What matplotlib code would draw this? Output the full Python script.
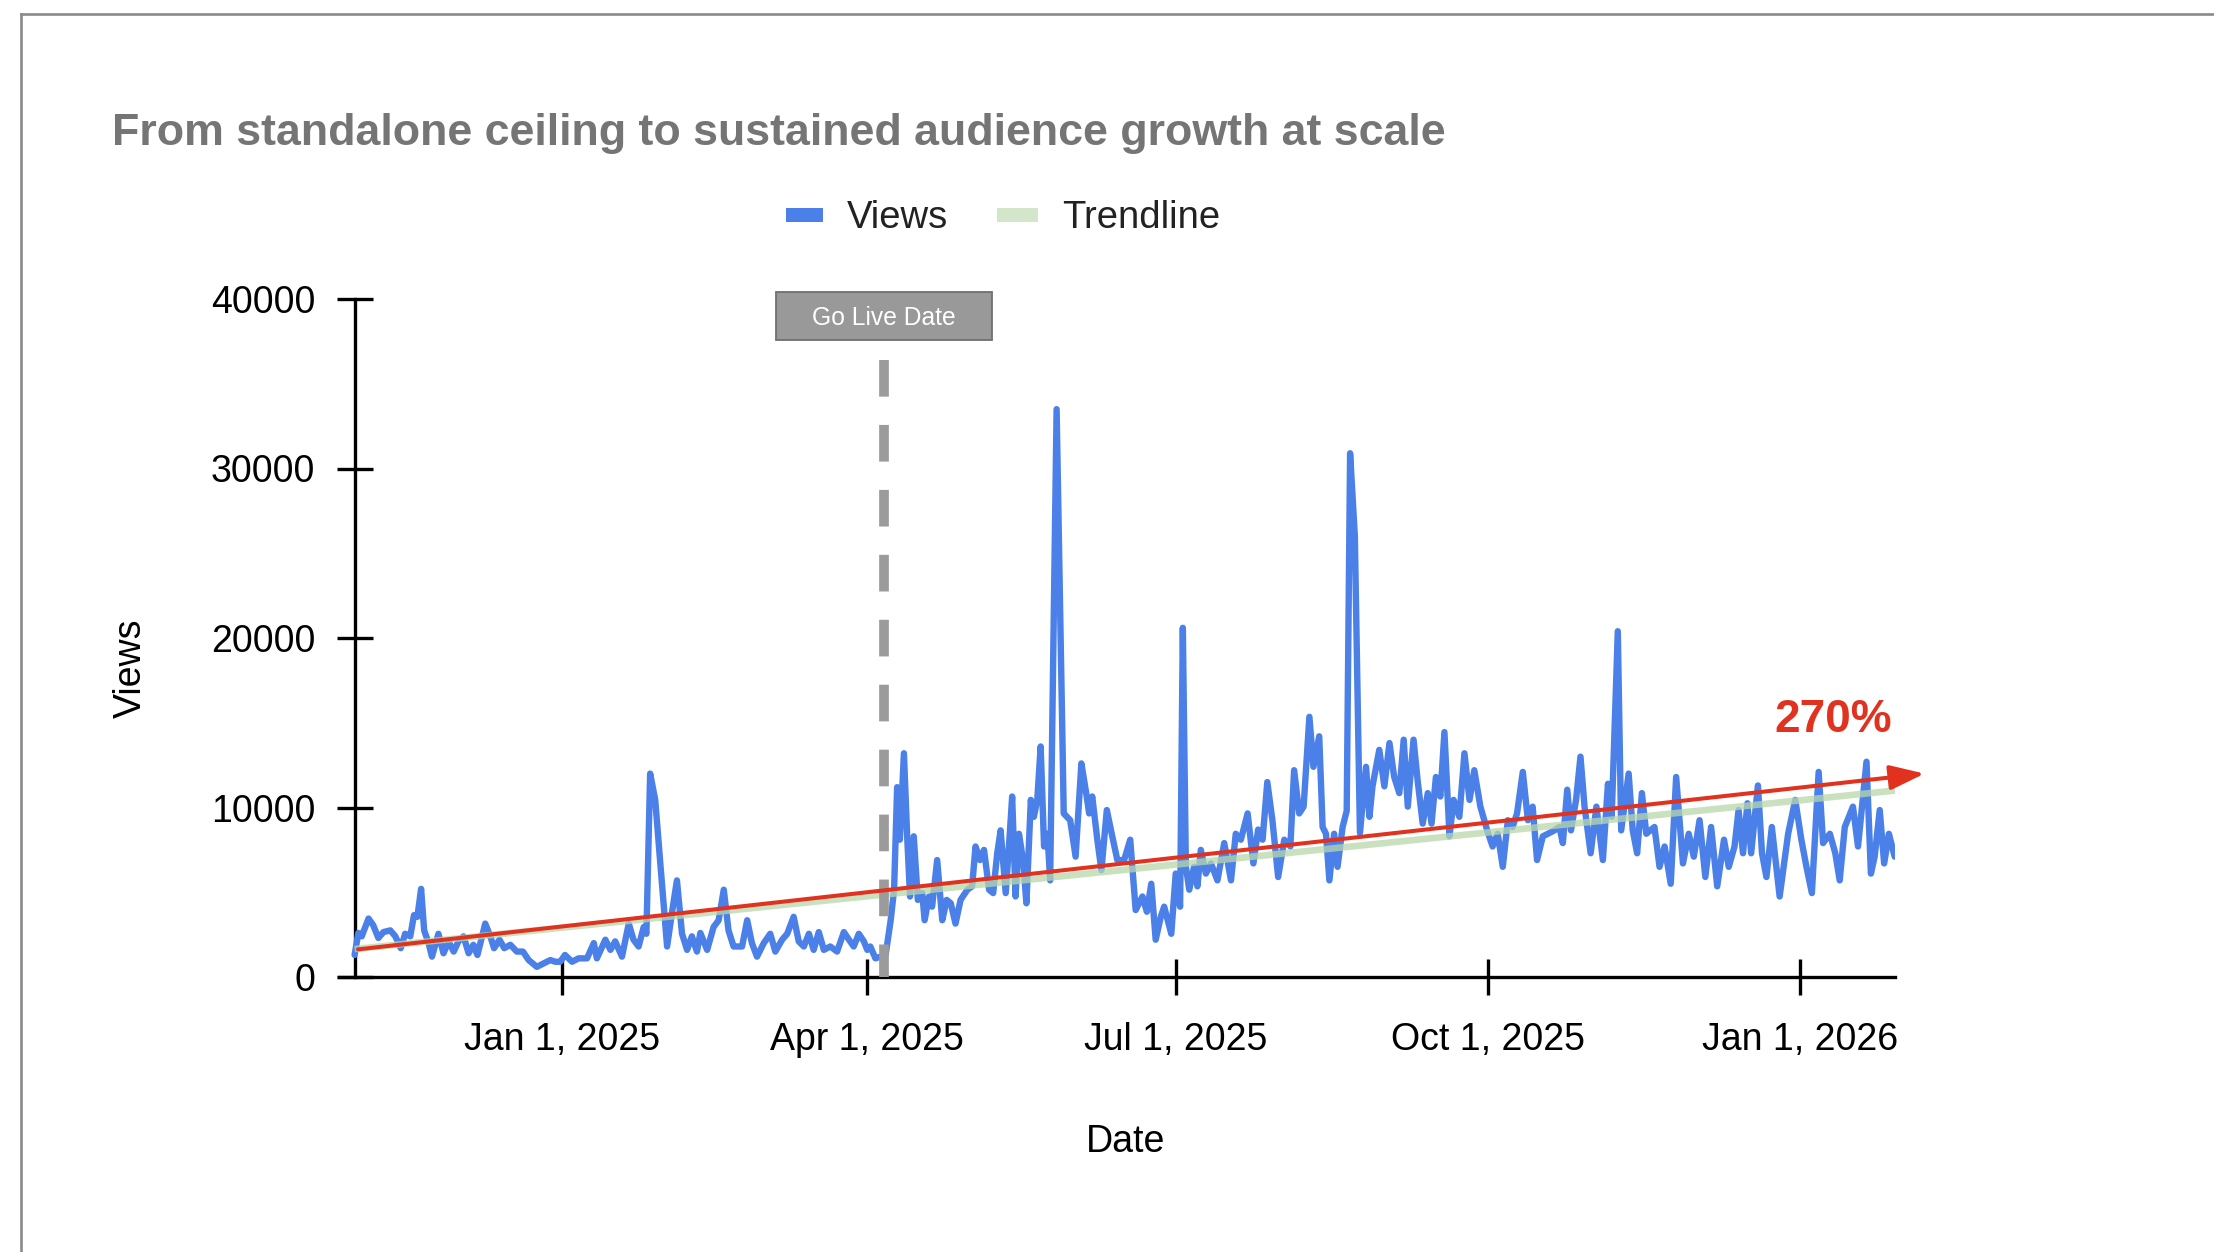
import datetime as dt
import matplotlib
matplotlib.use('Agg')
import matplotlib.pyplot as plt
import matplotlib.dates as mdates
import matplotlib.patches as mpatches
from matplotlib.lines import Line2D
from matplotlib.transforms import blended_transform_factory

plt.rcParams['font.family'] = ['Liberation Sans', 'DejaVu Sans']

# ---------------------------------------------------------------------------
# Data
# ---------------------------------------------------------------------------
START = dt.date(2024, 11, 1)
GO_LIVE = dt.date(2025, 4, 6)

# days after START, and daily views at those points
day_offset = [
    0.0, 1.1, 2.1, 4.1, 5.5, 7.0, 8.5, 10.5, 12.0, 13.6,
    14.9, 16.4, 17.5, 18.5, 19.6, 20.5, 21.8, 22.8, 24.7, 26.2,
    27.7, 29.2, 30.6, 32.1, 33.6, 35.0, 36.2, 38.5, 40.0, 41.1,
    42.7, 44.1, 45.9, 47.8, 49.6, 51.3, 53.7, 55.7, 57.7, 59.1,
    60.6, 62.0, 64.1, 66.0, 68.5, 70.5, 71.4, 73.9, 75.4, 76.8,
    78.8, 80.8, 82.2, 83.7, 85.2, 86.0, 87.1, 88.6, 90.1, 92.1,
    93.5, 95.0, 96.5, 98.0, 99.4, 100.9, 101.9, 103.9, 105.8, 107.3,
    108.8, 110.2, 111.7, 114.2, 115.7, 117.1, 118.6, 120.6, 122.5, 124.0,
    126.0, 127.5, 129.4, 130.9, 132.4, 133.9, 135.3, 136.8, 138.3, 140.2,
    142.2, 144.2, 145.7, 147.1, 148.6, 150.1, 151.1, 152.0, 153.5, 156.5,
    158.0, 159.0, 159.9, 160.7, 161.9, 162.9, 163.7, 164.8, 166.0, 167.3,
    168.0, 169.3, 170.2, 171.7, 173.2, 174.5, 175.7, 177.1, 178.6, 180.6,
    182.0, 183.0, 184.3, 185.5, 187.0, 188.2, 189.4, 190.4, 191.9, 193.1,
    193.8, 194.8, 195.8, 197.0, 198.0, 199.3, 200.2, 201.2, 202.2, 203.2,
    204.2, 205.0, 206.9, 209.0, 210.9, 212.5, 214.2, 215.5, 216.5, 217.4,
    218.9, 220.1, 221.7, 223.3, 224.8, 226.8, 228.6, 230.2, 232.2, 233.5,
    234.8, 236.1, 237.6, 238.6, 240.7, 242.0, 243.3, 244.1, 245.0, 246.0,
    247.4, 248.4, 249.4, 250.9, 252.4, 254.3, 256.3, 258.3, 259.7, 261.2,
    263.2, 264.9, 266.3, 267.6, 269.0, 270.5, 272.2, 274.0, 275.8, 276.9,
    278.4, 279.7, 281.4, 282.6, 284.3, 285.3, 286.3, 287.3, 288.7, 289.7,
    291.2, 292.4, 293.4, 294.8, 296.3, 298.1, 299.1, 300.0, 302.0, 303.5,
    305.0, 306.4, 307.9, 309.2, 310.4, 312.1, 313.3, 314.8, 316.3, 317.4,
    318.7, 320.0, 321.2, 322.7, 323.9, 325.6, 327.1, 328.6, 330.0, 331.8,
    333.8, 335.4, 336.9, 338.4, 339.9, 341.3, 342.6, 344.3, 345.8, 347.2,
    348.5, 350.2, 351.7, 353.6, 355.1, 356.1, 357.4, 358.5, 360.0, 361.3,
    362.5, 364.3, 366.0, 367.9, 369.4, 370.5, 372.3, 373.3, 375.5, 376.7,
    378.0, 379.4, 380.7, 383.1, 384.6, 386.1, 387.9, 389.5, 391.5, 393.2,
    394.7, 396.4, 398.1, 399.8, 401.6, 403.6, 405.0, 406.7, 407.9, 409.2,
    410.5, 411.6, 413.6, 414.8, 416.1, 417.7, 420.0, 422.5, 424.6, 426.4,
    427.9, 429.5, 431.5, 432.8, 434.8, 436.4, 437.7, 439.2, 441.6, 443.1,
    445.6, 446.9, 448.0, 449.5, 450.8, 452.2, 453.9,
]
views = [
    1300, 2600, 2400, 3450, 3050, 2300, 2650, 2750, 2400, 1700,
    2550, 2400, 3650, 3550, 5200, 2750, 2000, 1200, 2550, 1400,
    2100, 1500, 2100, 2400, 1400, 1900, 1300, 3150, 2400, 1700,
    2200, 1700, 1900, 1500, 1500, 1000, 600, 800, 1000, 900,
    900, 1300, 900, 1100, 1100, 2000, 1100, 2200, 1600, 2100,
    1200, 3150, 2200, 1800, 2950, 2550, 12000, 10450, 6700, 1800,
    3750, 5700, 2550, 1600, 2400, 1500, 2600, 1600, 2950, 3350,
    5150, 2750, 1800, 1800, 3350, 2000, 1200, 2000, 2550, 1500,
    2200, 2550, 3550, 2100, 1800, 2550, 1600, 2650, 1600, 1800,
    1500, 2650, 2200, 1800, 2550, 2100, 1600, 1800, 1100, 1300,
    3350, 5150, 11200, 8100, 13200, 8100, 4750, 8300, 4550, 4950,
    3350, 4750, 4150, 6900, 3350, 4550, 4350, 3150, 4550, 5150,
    5350, 7700, 6900, 7500, 5150, 4950, 7300, 8650, 4950, 8450,
    10650, 4750, 8450, 6900, 4350, 10450, 9450, 10450, 13600, 7700,
    8450, 5700, 33500, 9650, 9250, 7100, 12600, 11000, 9650, 10650,
    8100, 6300, 9850, 8300, 6900, 6900, 8100, 3950, 4750, 3850,
    5500, 2200, 3550, 4150, 2550, 6100, 4150, 20600, 6500, 5150,
    6500, 5350, 7500, 6100, 6700, 5700, 7900, 5700, 8450, 8100,
    9650, 6700, 8700, 8100, 11500, 9250, 5900, 8100, 7700, 12200,
    9650, 10050, 15350, 12400, 14200, 8850, 8450, 5700, 8450, 6500,
    8850, 9800, 30900, 26000, 8500, 12400, 9450, 11250, 13400, 11250,
    13800, 11800, 10850, 14000, 10050, 14000, 11600, 9050, 10850, 9050,
    11800, 10650, 14450, 8300, 10450, 9450, 13200, 10450, 12200, 10050,
    8650, 7700, 8450, 6500, 9250, 8850, 9650, 12100, 9250, 10050,
    6900, 8300, 8450, 8650, 8850, 7900, 11050, 8650, 10450, 13000,
    10050, 7300, 10050, 6900, 11400, 9450, 20400, 8650, 12000, 8650,
    7300, 10850, 8450, 8850, 6500, 7700, 5500, 11800, 6700, 8450,
    7100, 9250, 5900, 8850, 5350, 8100, 6500, 7700, 9850, 7300,
    10250, 7300, 11300, 7300, 5900, 8850, 4750, 8450, 10450, 8100,
    6500, 4950, 12100, 7900, 8450, 7300, 5700, 8850, 10050, 7700,
    12700, 6100, 7100, 9850, 6700, 8450, 7100,
]
assert len(day_offset) == len(views)

# straight trendline (start / end)
trend_days = [0.0, 454.0]
trend_views = [1650, 11000]

# red growth arrow (start / tip) and its label
growth_days = [1.0, 462.7]
growth_views = [1630, 12000]
growth_label = '270%'

y_ticks = [0, 10000, 20000, 30000, 40000]
x_tick_dates = [dt.date(2025, 1, 1), dt.date(2025, 4, 1), dt.date(2025, 7, 1),
                dt.date(2025, 10, 1), dt.date(2026, 1, 1)]
x_tick_labels = ['Jan 1, 2025', 'Apr 1, 2025', 'Jul 1, 2025',
                 'Oct 1, 2025', 'Jan 1, 2026']

BLUE = '#4a80e8'
GREEN = '#b9d8ab'
RED = '#e0321f'
GREY = '#9b9b9b'

# ---------------------------------------------------------------------------
# Figure
# ---------------------------------------------------------------------------
W, H = 2214, 1252
fig = plt.figure(figsize=(W / 100, H / 100), dpi=100)
fig.patch.set_facecolor('white')

# screenshot frame (top and left edge)
fig.add_artist(Line2D([21 / W, 1.0], [1 - 14 / H, 1 - 14 / H],
                      color='#8a8a8a', lw=1.9, transform=fig.transFigure))
fig.add_artist(Line2D([21 / W, 21 / W], [0.0, 1 - 14 / H],
                      color='#8a8a8a', lw=1.9, transform=fig.transFigure))

ax = fig.add_axes([339 / W, 1 - 977 / H, (1895 - 339) / W, (977 - 299) / H])

base = mdates.date2num(START)
xs = [base + d for d in day_offset]
go_live = mdates.date2num(GO_LIVE)

ax.set_xlim(base - 4.6, base + 454)
ax.set_ylim(0, 40000)

ax.plot(xs, views, color=BLUE, lw=4.6, solid_joinstyle='round',
        solid_capstyle='round', zorder=3)
ax.plot([base + d for d in trend_days], trend_views, color=GREEN, lw=4.8,
        alpha=0.75, solid_capstyle='butt', zorder=4)

# go live marker
ax.plot([go_live, go_live], [36400, 0], color=GREY, lw=7,
        linestyle=(0, (3.77, 2.91)), zorder=5, clip_on=False)
btrans = blended_transform_factory(ax.transData, ax.transAxes)
box_w = 63.7  # days
ax.add_patch(mpatches.Rectangle((go_live - box_w / 2, 0.9395), box_w, 0.0708,
                                transform=btrans, facecolor='#999999',
                                edgecolor='#6f6f6f', lw=1.3, clip_on=False,
                                zorder=6))
ax.text(go_live, 0.9715, 'Go Live Date', transform=btrans, ha='center',
        va='center', color='white', fontsize=17.7, zorder=7)

# growth arrow
ax.add_patch(mpatches.FancyArrowPatch(
    (base + growth_days[0], growth_views[0]),
    (base + growth_days[1], growth_views[1]),
    arrowstyle='-|>,head_length=21,head_width=7.5', mutation_scale=1,
    color=RED, lw=2.9, shrinkA=0, shrinkB=0, clip_on=False, zorder=8))
ax.text(base + 435.8, 15150, growth_label, color=RED, fontsize=33,
        fontweight='bold', ha='center', va='center', zorder=8)

# axes styling
for side in ['top', 'right']:
    ax.spines[side].set_visible(False)
ax.spines['left'].set_position(('data', base))
for side in ['left', 'bottom']:
    ax.spines[side].set_linewidth(2.4)
ax.set_yticks(y_ticks)
ax.set_yticklabels([str(v) for v in y_ticks])
ax.set_xticks([mdates.date2num(d) for d in x_tick_dates])
ax.set_xticklabels(x_tick_labels)
ax.tick_params(direction='inout', length=26.6, width=2.4, labelsize=27)
ax.tick_params(axis='y', pad=15)
ax.tick_params(axis='x', pad=19)

ax.set_ylabel('Views', fontsize=27)
ax.yaxis.set_label_coords(-0.1337, 0.456)
ax.set_xlabel('Date', fontsize=27)
ax.xaxis.set_label_coords(0.5058, -0.243)
ax.xaxis.label.set_va('center')
ax.yaxis.label.set_va('center')

# title
fig.text(111.5 / W, 1 - 144.5 / H,
         'From standalone ceiling to sustained audience growth at scale',
         fontsize=32.25, fontweight='bold', color='#757575', ha='left',
         va='baseline')

# legend (drawn by hand to match the spacing)
legend_y = 1 - 215 / H
for x0, x1, col, label, tx in [(786, 823, BLUE, 'Views', 847),
                               (997, 1038, '#d3e6ca', 'Trendline', 1062)]:
    fig.add_artist(mpatches.Rectangle((x0 / W, legend_y - 7 / H),
                                      (x1 - x0) / W, 14 / H,
                                      facecolor=col, edgecolor='none',
                                      transform=fig.transFigure))
    fig.text(tx / W, legend_y - 3 / H, label, fontsize=27.5, color='#222222',
             ha='left', va='center')

fig.savefig('out.png', dpi=100, facecolor='white')
